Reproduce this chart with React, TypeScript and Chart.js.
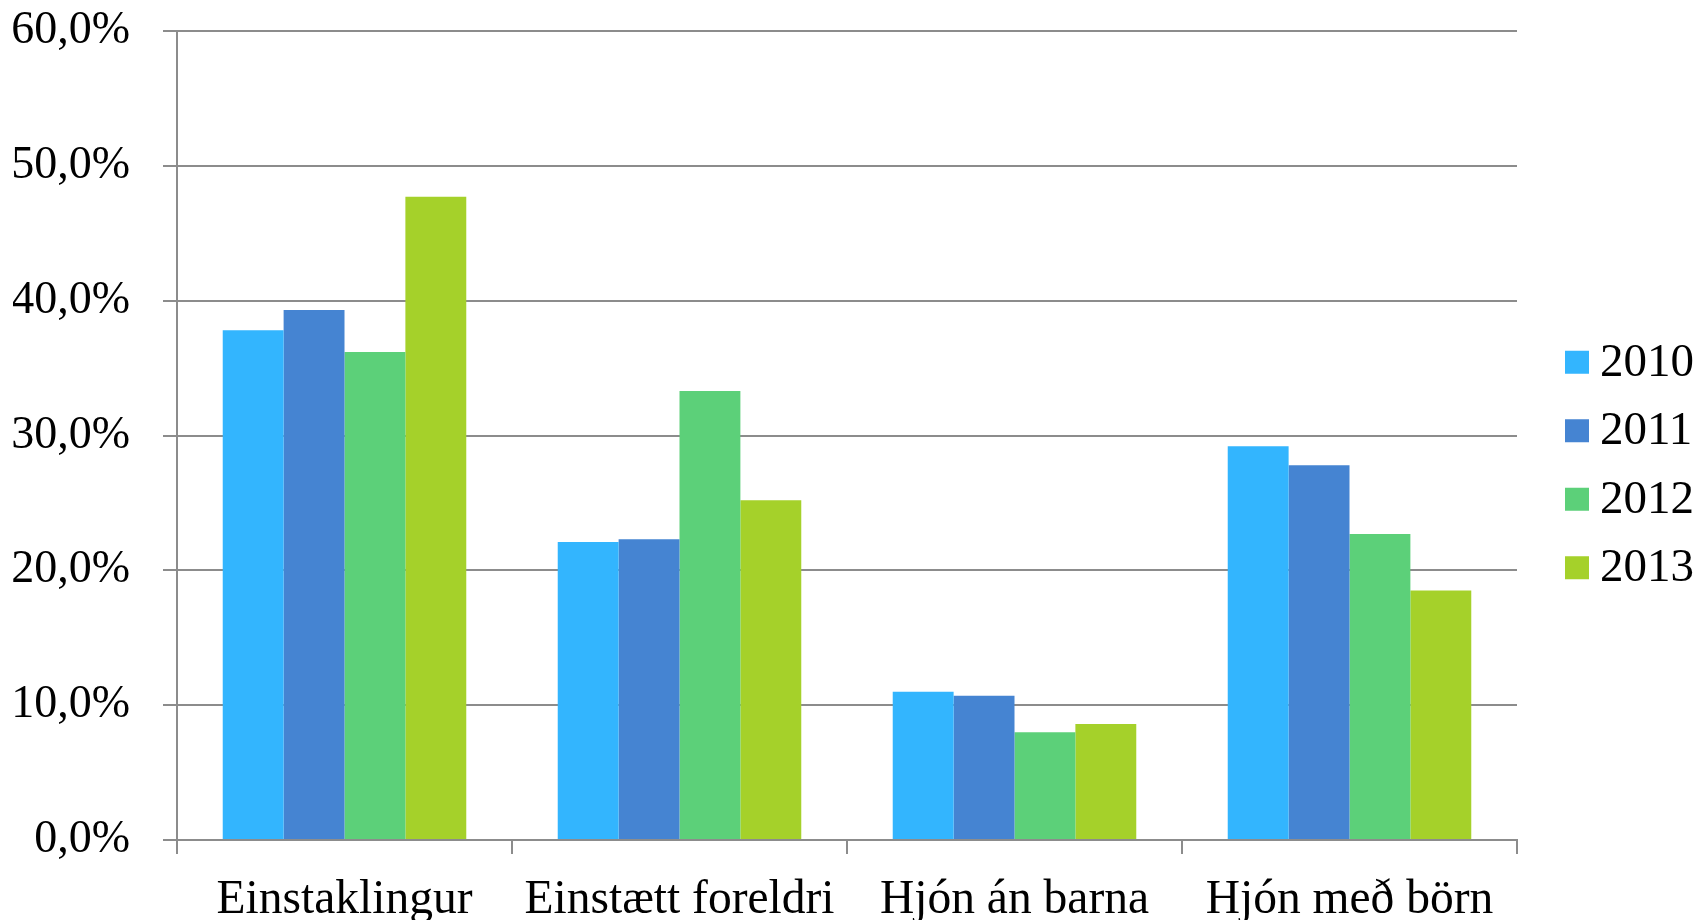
import React, { useEffect, useRef } from 'react';
import { Chart, registerables } from 'chart.js';

Chart.register(...registerables);

const categories = ['Einstaklingur', 'Einstætt foreldri', 'Hjón án barna', 'Hjón með börn'];
const years = ['2010', '2011', '2012', '2013'];
const values2010 = [37.8, 22.1, 11.0, 29.2];
const values2011 = [39.3, 22.3, 10.7, 27.8];
const values2012 = [36.2, 33.3, 8.0, 22.7];
const values2013 = [47.7, 25.2, 8.6, 18.5];
const seriesColors = ['#33B5FE', '#4584D2', '#5CD079', '#A5D12A'];
const yMin = 0;
const yMax = 60;
const yStep = 10;

const FONT = '"Liberation Serif", "Times New Roman", serif';
const GRID = '#8c8c8c';

const legendPlugin = {
  id: 'customLegend',
  afterDraw(chart: any) {
    const ctx = chart.ctx;
    const ds = chart.data.datasets;
    const centerY = 465;
    const spacing = 68.5;
    ctx.save();
    ctx.font = `47px ${FONT}`;
    ctx.textBaseline = 'middle';
    ctx.textAlign = 'left';
    ds.forEach((d: any, i: number) => {
      const y = centerY + (i - (ds.length - 1) / 2) * spacing;
      ctx.fillStyle = d.backgroundColor;
      ctx.fillRect(1565, y - 11.5, 24, 23);
      ctx.fillStyle = '#000';
      ctx.fillText(d.label, 1600, y + 1);
    });
    ctx.restore();
  },
};

export default function App() {
  const ref = useRef<HTMLCanvasElement>(null);
  useEffect(() => {
    document.body.style.margin = '0';
    const series = [values2010, values2011, values2012, values2013];
    const chart = new Chart(ref.current!, {
      type: 'bar',
      data: {
        labels: categories,
        datasets: years.map((y, i) => ({
          label: y,
          data: series[i],
          backgroundColor: seriesColors[i],
          borderWidth: 0,
          categoryPercentage: 0.727,
          barPercentage: 1,
        })),
      },
      options: {
        animation: false,
        responsive: false,
        devicePixelRatio: 1,
        layout: { padding: { left: 13, right: 183, top: 31, bottom: 0 } },
        plugins: {
          legend: { display: false },
          tooltip: { enabled: false },
        },
        scales: {
          x: {
            grid: {
              display: true,
              drawOnChartArea: false,
              drawTicks: true,
              tickLength: 14,
              color: GRID,
              lineWidth: 2,
              offset: true,
            },
            border: { display: true, color: GRID, width: 2 },
            ticks: {
              color: '#000',
              font: { family: FONT, size: 47.5, lineHeight: 1.0 },
              padding: 23,
              maxRotation: 0,
              autoSkip: false,
            },
            afterFit: (scale: any) => {
              scale.height = 80;
            },
          },
          y: {
            min: yMin,
            max: yMax,
            grid: {
              color: GRID,
              lineWidth: 2,
              drawTicks: true,
              tickLength: 14,
            },
            border: { display: true, color: GRID, width: 2 },
            ticks: {
              stepSize: yStep,
              color: '#000',
              padding: 33,
              font: { family: FONT, size: 46, lineHeight: 1.2 },
              callback: (v: any) => Number(v).toFixed(1).replace('.', ',') + '%',
            },
            afterFit: (scale: any) => {
              scale.width = 164;
              scale.paddingTop = 0;
              scale.paddingBottom = 0;
            },
          },
        },
      },
      plugins: [legendPlugin],
    });
    return () => chart.destroy();
  }, []);
  return (
    <div style={{ width: 1700, height: 920 }}>
      <canvas ref={ref} width={1700} height={920} />
    </div>
  );
}
